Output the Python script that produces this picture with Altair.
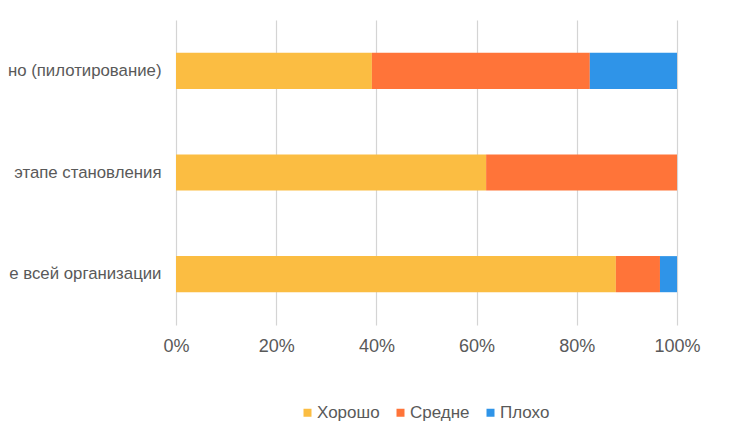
import altair as alt
import pandas as pd

categories = ["но (пилотирование)", "этапе становления", "е всей организации"]
series = ["Хорошо", "Средне", "Плохо"]
good = [39.1, 61.9, 87.8]
mid = [43.5, 38.1, 8.8]
bad = [17.4, 0.0, 3.4]
colors = ["#FBBD42", "#FF7439", "#2F94E8"]
tick_values = [0, 0.2, 0.4, 0.6, 0.8, 1.0]

rows = []
for i, c in enumerate(categories):
    for j, (s, vals) in enumerate(zip(series, [good, mid, bad])):
        rows.append({"cat": c, "series": s, "value": vals[i], "ord": j})
df = pd.DataFrame(rows)

FONT = "Liberation Sans"
TXT = "#595959"
FS = 18

chart = alt.Chart(df).mark_bar().encode(
    y=alt.Y("cat:N", sort=categories, title=None,
            scale=alt.Scale(paddingInner=0.645, paddingOuter=0.3225),
            axis=alt.Axis(domain=False, ticks=False, labelPadding=15,
                          labelFont=FONT, labelFontSize=16.8, labelColor=TXT,
                          labelLimit=400)),
    x=alt.X("value:Q", stack="normalize", title=None,
            scale=alt.Scale(domain=[0, 1], nice=False),
            axis=alt.Axis(values=tick_values, format=".0%", domain=False, ticks=False,
                          grid=True, gridColor="#d4d4d4", gridWidth=1.2,
                          labelFlush=False, labelOverlap=False,
                          labelPadding=12, labelFont=FONT, labelFontSize=FS,
                          labelColor=TXT)),
    color=alt.Color("series:N", scale=alt.Scale(domain=series, range=colors),
                    legend=alt.Legend(title=None, orient="none", direction="horizontal",
                                      legendX=123, legendY=384,
                                      symbolType="square", symbolSize=64,
                                      symbolStrokeWidth=0, labelOffset=1,
                                      columnPadding=12,
                                      labelFont=FONT, labelFontSize=17,
                                      labelColor=TXT)),
    order=alt.Order("ord:Q", sort="ascending"),
).properties(
    width=501, height=305,
    autosize=alt.AutoSizeParams(type="none"),
    padding={"left": 168, "top": 12, "right": 60, "bottom": 100},
).configure_view(stroke=None)

chart.save("out.html", embed_options={"renderer": "svg", "actions": False})
